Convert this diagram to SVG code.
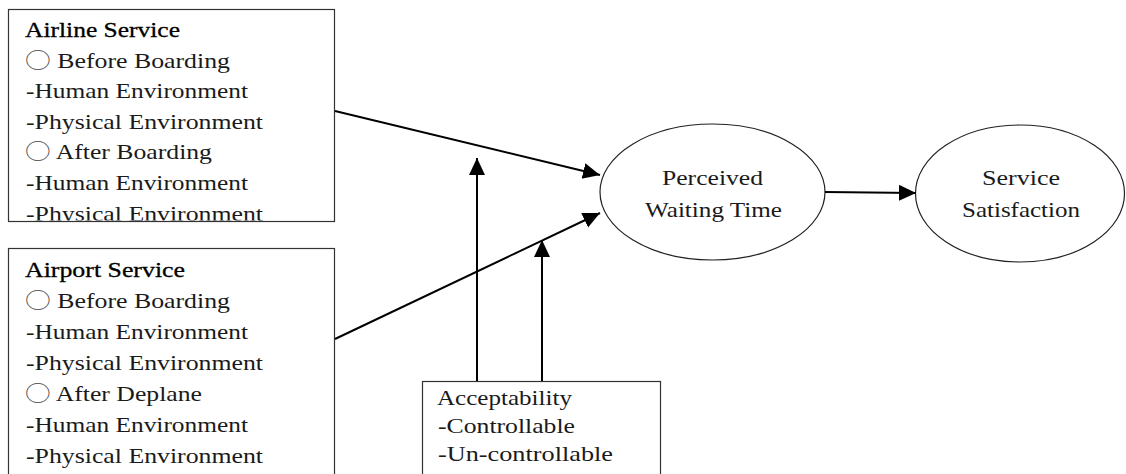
<svg xmlns="http://www.w3.org/2000/svg" width="1126" height="474" viewBox="0 0 1126 474">
<style>
text{font-family:"Liberation Serif","Noto Sans CJK KR",serif;font-size:22px;fill:#1a1a1a}
.h{fill:#000;stroke:#000;stroke-width:0.3}
.o{font-family:"Noto Sans CJK KR","DejaVu Sans",sans-serif;font-weight:300;fill:#444}
.box{fill:#fff;stroke:#333;stroke-width:1.2}
.ell{fill:#fff;stroke:#222;stroke-width:1.2}
.c{text-anchor:middle}
.conn{stroke:#000;stroke-width:2;fill:none}
</style>
<defs>
<marker id="ah" markerUnits="userSpaceOnUse" markerWidth="18" markerHeight="18" refX="17" refY="8" orient="auto">
<path d="M0,0 L17,8 L0,16 Z" fill="#000"/>
</marker>
<clipPath id="clip1"><rect x="8" y="9" width="327" height="211.5"/></clipPath>
</defs>
<g id="airline">
<rect class="box" x="8.5" y="9.5" width="326" height="212"/>
<g clip-path="url(#clip1)">
<text class="h" x="25" y="37" textLength="155" lengthAdjust="spacingAndGlyphs">Airline Service</text>
<text x="25" y="67.5" textLength="205" lengthAdjust="spacingAndGlyphs"><tspan class="o">○</tspan> Before Boarding</text>
<text x="26" y="98" textLength="222" lengthAdjust="spacingAndGlyphs">-Human Environment</text>
<text x="26" y="128.5" textLength="237" lengthAdjust="spacingAndGlyphs">-Physical Environment</text>
<text x="25" y="159" textLength="187" lengthAdjust="spacingAndGlyphs"><tspan class="o">○</tspan> After Boarding</text>
<text x="26" y="189.5" textLength="222" lengthAdjust="spacingAndGlyphs">-Human Environment</text>
<text x="26" y="221" textLength="237" lengthAdjust="spacingAndGlyphs">-Physical Environment</text>
</g>
</g>
<g id="airport">
<rect class="box" x="8.5" y="248.5" width="326" height="240"/>
<text class="h" x="25" y="277" textLength="160" lengthAdjust="spacingAndGlyphs">Airport Service</text>
<text x="25" y="308" textLength="205" lengthAdjust="spacingAndGlyphs"><tspan class="o">○</tspan> Before Boarding</text>
<text x="26" y="339" textLength="222" lengthAdjust="spacingAndGlyphs">-Human Environment</text>
<text x="26" y="370" textLength="237" lengthAdjust="spacingAndGlyphs">-Physical Environment</text>
<text x="25" y="401" textLength="177" lengthAdjust="spacingAndGlyphs"><tspan class="o">○</tspan> After Deplane</text>
<text x="26" y="432" textLength="222" lengthAdjust="spacingAndGlyphs">-Human Environment</text>
<text x="26" y="463" textLength="237" lengthAdjust="spacingAndGlyphs">-Physical Environment</text>
</g>
<g id="acceptability">
<rect class="box" x="422.5" y="381.5" width="238" height="110"/>
<text x="437" y="405" textLength="135" lengthAdjust="spacingAndGlyphs">Acceptability</text>
<text x="438" y="433" textLength="137" lengthAdjust="spacingAndGlyphs">-Controllable</text>
<text x="438" y="461" textLength="175" lengthAdjust="spacingAndGlyphs">-Un-controllable</text>
</g>
<g id="perceived">
<ellipse class="ell" cx="712.5" cy="192" rx="112.5" ry="68"/>
<text class="c" x="712.5" y="185" textLength="101" lengthAdjust="spacingAndGlyphs">Perceived</text>
<text class="c" x="713.5" y="217" textLength="137" lengthAdjust="spacingAndGlyphs">Waiting Time</text>
</g>
<g id="satisfaction">
<ellipse class="ell" cx="1020" cy="193.5" rx="104.5" ry="68.5"/>
<text class="c" x="1021" y="185" textLength="78" lengthAdjust="spacingAndGlyphs">Service</text>
<text class="c" x="1021" y="217" textLength="118" lengthAdjust="spacingAndGlyphs">Satisfaction</text>
</g>
<g id="connectors">
<line class="conn" x1="335" y1="111" x2="600" y2="175" marker-end="url(#ah)"/>
<line class="conn" x1="335" y1="339" x2="600" y2="213" marker-end="url(#ah)"/>
<line class="conn" x1="477" y1="381" x2="477" y2="158" marker-end="url(#ah)"/>
<line class="conn" x1="542" y1="381" x2="542" y2="240" marker-end="url(#ah)"/>
<line class="conn" x1="825" y1="192" x2="916" y2="193" marker-end="url(#ah)"/>
</g>
</svg>
